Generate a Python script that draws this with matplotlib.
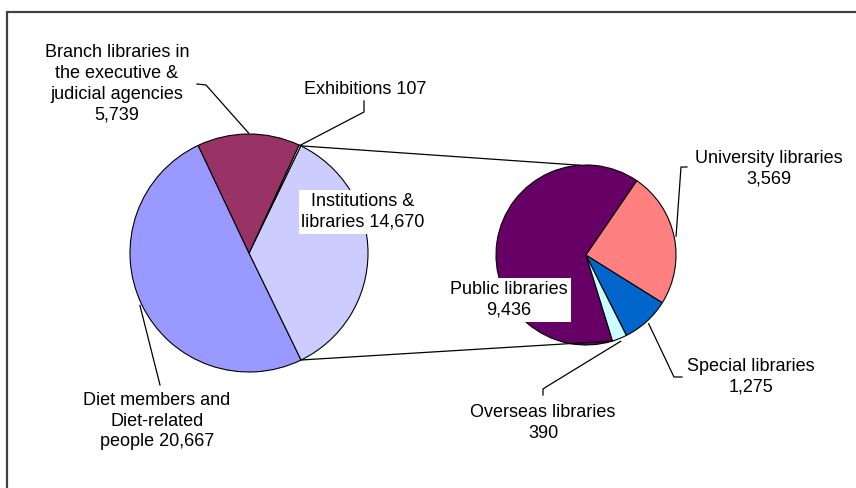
import numpy as np
import matplotlib.pyplot as plt
from matplotlib.patches import Rectangle

# Pie-of-pie: users of the library, the "Institutions & libraries" slice is split out on the right

W, H = 856, 488

main_labels = ['Diet members and\nDiet-related\npeople 20,667',
               'Institutions &\nlibraries 14,670',
               'Exhibitions 107',
               'Branch libraries in\nthe executive &\njudicial agencies\n5,739']
main_values = [20667, 14670, 107, 5739]
main_colors = ['#9999FF', '#CCCCFF', '#FFFFCC', '#993366']

sub_labels = ['Public libraries\n9,436', 'Overseas libraries\n390',
              'Special libraries\n1,275', 'University libraries\n3,569']
sub_values = [9436, 390, 1275, 3569]
sub_colors = ['#660066', '#CCFFFF', '#0066CC', '#FF8080']


def px(x, y):
    # image pixel coords (y down) -> data coords (y up)
    return x, H - y


def edge_point(center, radius, ang):
    a = np.deg2rad(ang)
    return center[0] + radius * np.cos(a), center[1] + radius * np.sin(a)


def mid_angle(w):
    return (w.theta1 + w.theta2) / 2


plt.rcParams['font.family'] = ['Liberation Sans', 'DejaVu Sans']
fig = plt.figure(figsize=(W / 100, H / 100), dpi=100)
ax = fig.add_axes([0, 0, 1, 1])

# chart frame (runs off the right and bottom edge)
ax.add_patch(Rectangle(px(7, 520), 900, 508, fill=False, ec='#404040', lw=1.6))

c1, r1 = px(249, 253), 119
c2, r2 = px(586, 255), 90
wp = dict(edgecolor='black', linewidth=0.8)

wedges1, _ = ax.pie(main_values, colors=main_colors, startangle=115.3,
                    counterclock=True, center=c1, radius=r1, wedgeprops=wp, frame=True)
wedges2, _ = ax.pie(sub_values, colors=sub_colors, startangle=55.6,
                    counterclock=True, center=c2, radius=r2, wedgeprops=wp, frame=True)
ax.set_xlim(0, W)
ax.set_ylim(0, H)
ax.set_aspect('equal')
ax.axis('off')

# connector lines between the two pies
inst = wedges1[1]
p_top1 = edge_point(c1, r1, inst.theta2)
p_bot1 = edge_point(c1, r1, inst.theta1)
p_top2 = edge_point(c2, r2, 94)
p_bot2 = edge_point(c2, r2, wedges2[0].theta2)
ax.plot([p_top1[0], p_top2[0]], [p_top1[1], p_top2[1]], color='black', lw=0.9)
ax.plot([p_bot1[0], p_bot2[0]], [p_bot1[1], p_bot2[1]], color='black', lw=0.9)

txt = dict(fontsize=13, ha='center', va='center', linespacing=1.3, color='black')
box = dict(fc='white', ec='none', pad=2)

# main pie labels
ax.text(*px(157, 421), main_labels[0], **txt)
ax.text(*px(363, 212), main_labels[1], bbox=box, **txt)
ax.text(*px(365, 90), main_labels[2], **txt)
ax.text(*px(117, 84), main_labels[3], **txt)

# sub pie labels
ax.text(*px(509, 300), sub_labels[0], bbox=box, **txt)
ax.text(*px(543, 423), sub_labels[1], **txt)
ax.text(*px(751, 377), sub_labels[2], **txt)
ax.text(*px(769, 169), sub_labels[3], **txt)


def leader(points):
    xs, ys = zip(*points)
    ax.plot(xs, ys, color='black', lw=0.9)


leader([edge_point(c1, r1 + 2, mid_angle(wedges1[0])), px(160, 385)])
leader([edge_point(c1, r1, mid_angle(wedges1[2])), px(364, 112), px(364, 101)])
leader([edge_point(c1, r1 + 1, mid_angle(wedges1[3])), px(206, 85), px(197, 84)])
leader([edge_point(c2, r2 + 3, mid_angle(wedges2[1])), px(546, 387), px(543, 389), px(543, 395)])
leader([edge_point(c2, r2 + 3, mid_angle(wedges2[2])), px(674, 377), px(682, 377)])
leader([edge_point(c2, r2 + 2, mid_angle(wedges2[3])), px(681, 167), px(687, 167)])

fig.savefig('out.png', dpi=100)
